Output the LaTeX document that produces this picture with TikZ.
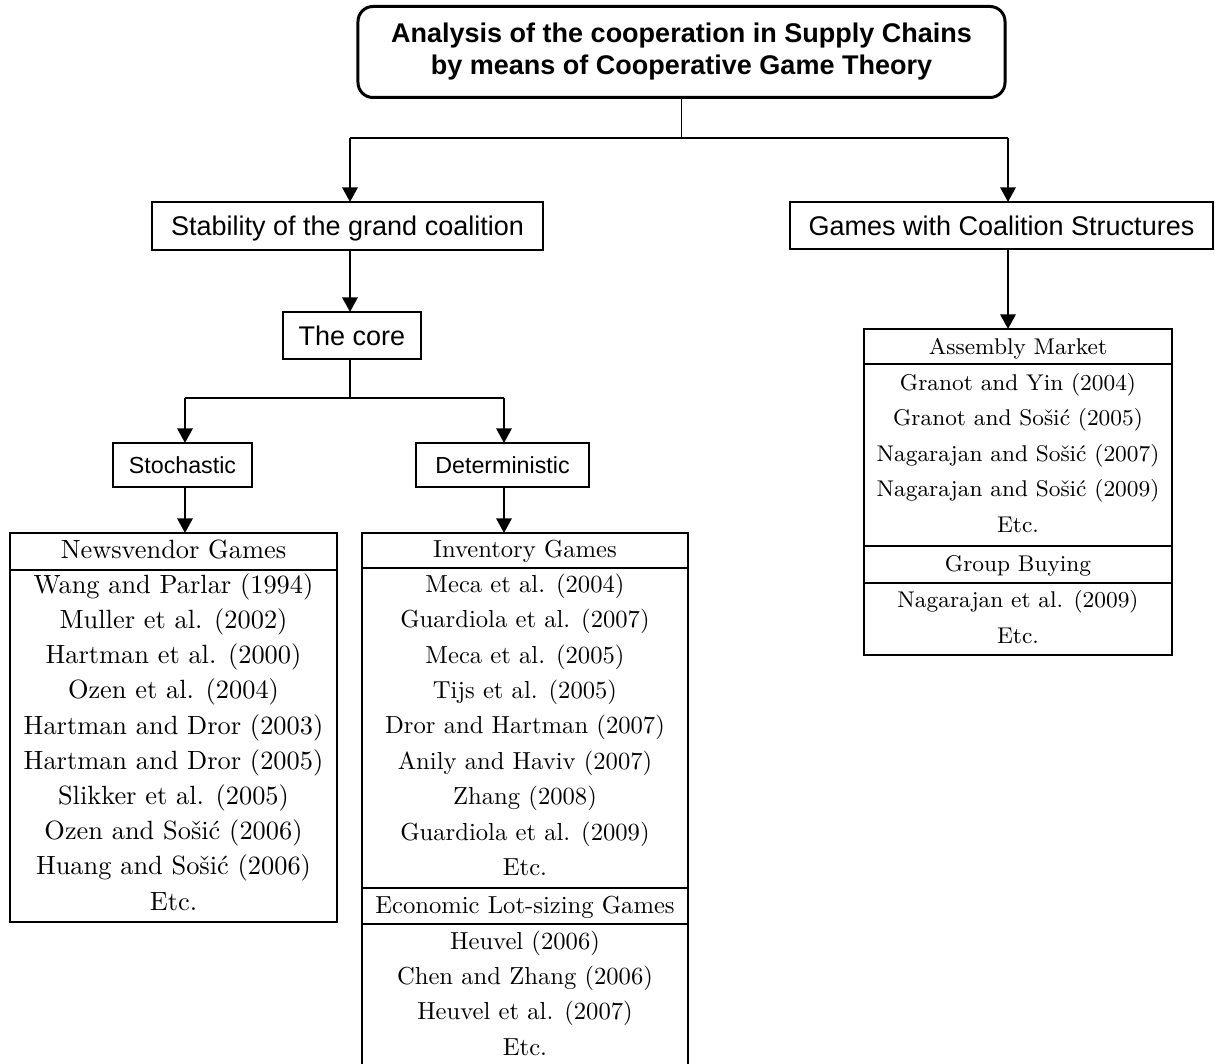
\documentclass[tikz,border=0pt]{standalone}
\usepackage{fontspec}
\newfontfamily\arialf{Liberation Sans}
\usetikzlibrary{arrows.meta,fit}
\begin{document}
\begin{tikzpicture}[x=0.4pt,y=-0.4pt,
 sbox/.style={draw,line width=0.6pt,inner sep=0,outer sep=0,align=center,font=\arialf\fontsize{10.8}{12.8}\selectfont},
 onelinebox/.style={sbox,text height=7.7pt,text depth=0pt},
 smallbox/.style={sbox,text height=6.7pt,text depth=0pt,font=\arialf\fontsize{9.3}{11}\selectfont},
 tbl/.style={draw,line width=0.45pt,inner sep=0,outer sep=0},
 rowtext/.style={inner sep=0,text height=7.5pt,text depth=2.5pt,font=\fontsize{10.3}{12}\selectfont},
 newsrow/.style={rowtext,font=\fontsize{10.55}{12}\selectfont},
 invrow/.style={rowtext,font=\fontsize{9.85}{12}\selectfont},
 asmrow/.style={rowtext,font=\fontsize{9.1}{12}\selectfont},
 arr/.style={line width=1.1pt,-{Triangle[length=5.8pt,width=6pt]}},
 conn/.style={line width=0.5pt}]
\useasboundingbox (0,0) rectangle (1215,1064);
\clip (0,0) rectangle (1215,1064);

% title
\node[sbox,line width=1.2pt,rounded corners=6pt,minimum width=258.8pt,minimum height=36.4pt,
      font=\arialf\bfseries\fontsize{10.8}{12.8}\selectfont] (title) at (681.5,52)
  {Analysis of the cooperation in Supply Chains\\by means of Cooperative Game Theory};

% level 2
\node[onelinebox,minimum width=156.4pt,minimum height=19.2pt] (stab) at (347.5,226) {Stability of the grand coalition};
\node[onelinebox,minimum width=169.2pt,minimum height=18.8pt] (games) at (1001.5,225.5) {Games with Coalition Structures};
\node[onelinebox,minimum width=55.2pt,minimum height=18.8pt] (core) at (352,335.5) {The core};
\node[smallbox,minimum width=55.6pt,minimum height=17.6pt] (stoch) at (182.5,465) {Stochastic};
\node[smallbox,minimum width=69.2pt,minimum height=17.6pt] (determ) at (502.5,465) {Deterministic};

% tables
\node[tbl,fit={(10,533) (337,922)}] (news) {};
\node[tbl,fit={(362,533) (688,1090)}] (inv) {};
\node[tbl,fit={(864,329) (1172,655)}] (asm) {};
\draw[line width=0.45pt] (news.west |- 0,570) -- (news.east |- 0,570);
\draw[line width=0.45pt] (inv.west |- 0,568) -- (inv.east |- 0,568);
\draw[line width=0.45pt] (inv.west |- 0,888) -- (inv.east |- 0,888);
\draw[line width=0.45pt] (inv.west |- 0,924) -- (inv.east |- 0,924);
\draw[line width=0.45pt] (asm.west |- 0,364) -- (asm.east |- 0,364);
\draw[line width=0.45pt] (asm.west |- 0,546) -- (asm.east |- 0,546);
\draw[line width=0.45pt] (asm.west |- 0,583) -- (asm.east |- 0,583);

\node[newsrow] (newsh) at (173.5,552) {Newsvendor Games};
\foreach \t [count=\i] in {Wang and Parlar (1994),Muller et al. (2002),Hartman et al. (2000),Ozen et al. (2004),Hartman and Dror (2003),Hartman and Dror (2005),Slikker et al. (2005),Ozen and Sošić (2006),Huang and Sošić (2006),Etc.}
  \node[newsrow] (nw\i) at (173.5,{587+35.2*(\i-1)}) {\t};

\node[invrow] (invh) at (525,551) {Inventory Games};
\foreach \t [count=\i] in {Meca et al. (2004),Guardiola et al. (2007),Meca et al. (2005),Tijs et al. (2005),Dror and Hartman (2007),Anily and Haviv (2007),Zhang (2008),Guardiola et al. (2009),Etc.}
  \node[invrow] (iv\i) at (525,{586+35.4*(\i-1)}) {\t};

\node[invrow] (loth) at (525,907) {Economic Lot-sizing Games};
\foreach \t [count=\i] in {Heuvel (2006),Chen and Zhang (2006),Heuvel et al. (2007),Etc.}
  \node[invrow] (ls\i) at (525,{943+35.3*(\i-1)}) {\t};

\node[asmrow] (asmh) at (1018,348) {Assembly Market};
\foreach \t [count=\i] in {Granot and Yin (2004),Granot and Sošić (2005),Nagarajan and Sošić (2007),Nagarajan and Sošić (2009),Etc.}
  \node[asmrow] (am\i) at (1018,{384+35.5*(\i-1)}) {\t};

\node[asmrow] (grph) at (1018,565) {Group Buying};
\foreach \t [count=\i] in {Nagarajan et al. (2009),Etc.}
  \node[asmrow] (gb\i) at (1018,{601+36*(\i-1)}) {\t};

% connectors
\coordinate (split1) at (681.5,138);
\coordinate (L1) at (350,138);
\coordinate (R1) at (1008,138);
\draw[conn] (title.south) -- (split1);
\draw[conn] (L1) -- (R1);
\draw[arr] (L1) -- (L1 |- stab.north);
\draw[arr] (R1) -- (R1 |- games.north);
\draw[arr] (350,0 |- stab.south) -- (350,0 |- core.north);
\draw[arr] (1008,0 |- games.south) -- (1008,0 |- asm.north);

\coordinate (split2) at (350,398);
\coordinate (L2) at (185,398);
\coordinate (R2) at (504,398);
\draw[conn] (350,0 |- core.south) -- (split2);
\draw[conn] (L2) -- (R2);
\draw[arr] (L2) -- (L2 |- stoch.north);
\draw[arr] (R2) -- (R2 |- determ.north);
\draw[arr] (L2 |- stoch.south) -- (L2 |- news.north);
\draw[arr] (R2 |- determ.south) -- (R2 |- inv.north);
\end{tikzpicture}
\end{document}
